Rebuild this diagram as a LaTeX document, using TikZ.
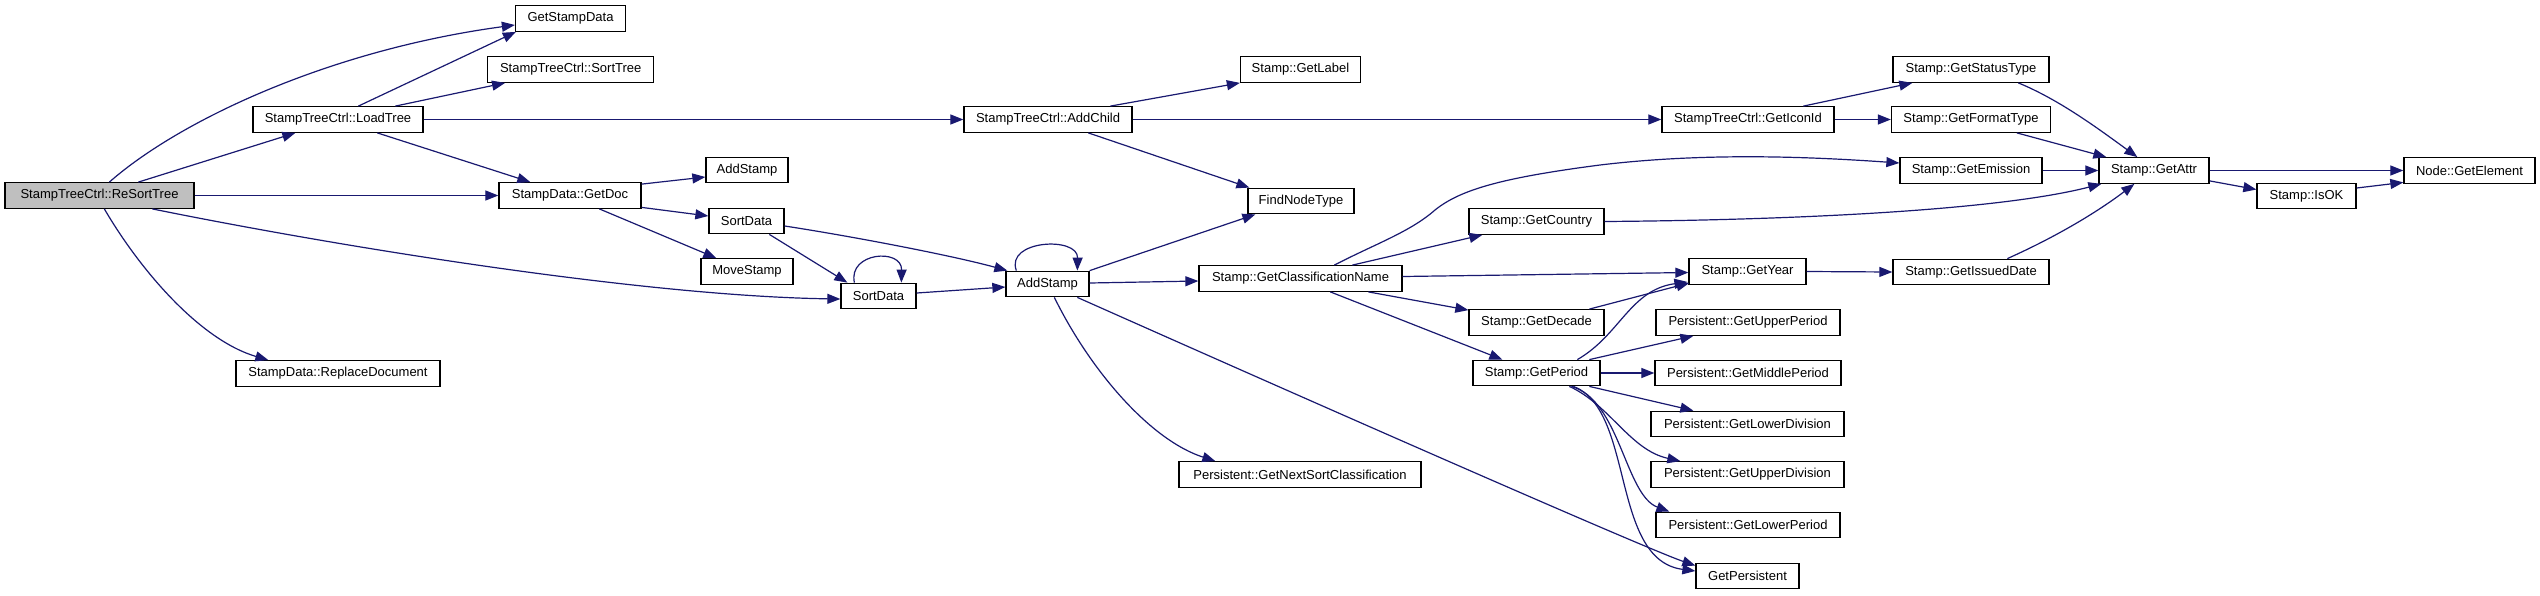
\documentclass[tikz,border=0pt]{standalone}
\usepackage{fontspec}
\setmainfont{Liberation Sans}
\usetikzlibrary{arrows.meta}
\definecolor{edgec}{HTML}{191970}
\definecolor{rootfill}{HTML}{BFBFBF}
\begin{document}
\begin{tikzpicture}[x=1pt,y=-1pt,
 fn/.style={draw=black, line width=1.3pt, fill=white, rectangle, minimum height=25.5pt, inner sep=0pt, font=\fontsize{13}{15}\selectfont, anchor=center},
 e/.style={draw=edgec, line width=1.2pt, -{Triangle[length=13pt,width=10pt]}},
]
\useasboundingbox[fill=white] (0,0) rectangle (2540,595);
% nodes
\node[fn, fill=rootfill, minimum width=189pt] (resort) at (99.5,195.5) {StampTreeCtrl::ReSortTree};
\node[fn, minimum width=110pt] (gsd) at (570.5,18.5) {GetStampData};
\node[fn, minimum width=166pt] (st) at (570.7,69.5) {StampTreeCtrl::SortTree};
\node[fn, minimum width=170pt] (lt) at (338,119.5) {StampTreeCtrl::LoadTree};
\node[fn, minimum width=142pt] (gdoc) at (570,195.5) {StampData::GetDoc};
\node[fn, minimum width=204pt] (rd) at (338,373.5) {StampData::ReplaceDocument};
\node[fn, minimum width=82pt] (as1) at (747,170) {AddStamp};
\node[fn, minimum width=75pt] (sd1) at (746.5,221) {SortData};
\node[fn, minimum width=92pt] (ms) at (747,271.5) {MoveStamp};
\node[fn, minimum width=75pt] (sd2) at (878.5,296) {SortData};
\node[fn, minimum width=83pt] (as2) at (1047.5,284) {AddStamp};
\node[fn, minimum width=168pt] (ac) at (1048,119.5) {StampTreeCtrl::AddChild};
\node[fn, minimum width=106pt] (fnt) at (1301,201) {FindNodeType};
\node[fn, minimum width=120pt] (gl) at (1300.5,69.5) {Stamp::GetLabel};
\node[fn, minimum width=172pt] (gii) at (1748,119.5) {StampTreeCtrl::GetIconId};
\node[fn, minimum width=203pt] (gcn) at (1300.5,278.5) {Stamp::GetClassificationName};
\node[fn, minimum width=242pt] (gnsc) at (1300,474.5) {Persistent::GetNextSortClassification};
\node[fn, minimum width=135pt] (gc) at (1536.5,221.5) {Stamp::GetCountry};
\node[fn, minimum width=135pt] (gdec) at (1536.5,322.5) {Stamp::GetDecade};
\node[fn, minimum width=127pt] (gper) at (1536.5,373) {Stamp::GetPeriod};
\node[fn, minimum width=117pt] (gy) at (1747.5,271.5) {Stamp::GetYear};
\node[fn, minimum width=184pt] (gup) at (1748,322.5) {Persistent::GetUpperPeriod};
\node[fn, minimum width=186pt] (gmp) at (1748,373) {Persistent::GetMiddlePeriod};
\node[fn, minimum width=193pt] (gld) at (1747.5,424) {Persistent::GetLowerDivision};
\node[fn, minimum width=193pt] (gud) at (1747.5,474.5) {Persistent::GetUpperDivision};
\node[fn, minimum width=184pt] (glp) at (1748,525) {Persistent::GetLowerPeriod};
\node[fn, minimum width=103pt] (gpers) at (1747.5,576) {GetPersistent};
\node[fn, minimum width=156pt] (gst) at (1971,69.5) {Stamp::GetStatusType};
\node[fn, minimum width=159pt] (gft) at (1971,119.5) {Stamp::GetFormatType};
\node[fn, minimum width=142pt] (gem) at (1971,170.5) {Stamp::GetEmission};
\node[fn, minimum width=156pt] (gid) at (1971,272) {Stamp::GetIssuedDate};
\node[fn, minimum width=110pt] (ga) at (2154,170.5) {Stamp::GetAttr};
\node[fn, minimum width=99pt] (ok) at (2306.5,196) {Stamp::IsOK};
\node[fn, minimum width=131pt] (ge) at (2469.5,170.5) {Node::GetElement};
% edges
\draw[e] ([xshift=105]resort.north west) .. controls (180,120) and (330,50) .. ([yshift=-6.5]gsd.west);
\draw[e] ([xshift=134]resort.north west) -- ([xshift=43]lt.south west);
\draw[e] (resort.east) -- (gdoc.west);
\draw[e] ([xshift=148]resort.south west) .. controls (330,245) and (640,296) .. ([yshift=-3]sd2.west);
\draw[e] ([xshift=100]resort.south west) .. controls (140,270) and (200,340) .. ([xshift=33]rd.north west);
\draw[e] ([xshift=106]lt.north west) -- ([xshift=1]gsd.south west);
\draw[e] ([xshift=143]lt.north west) -- ([xshift=18]st.south west);
\draw[e] (lt.east) -- (ac.west);
\draw[e] ([xshift=125]lt.south west) -- ([xshift=32]gdoc.north west);
\draw[e] ([yshift=-2]gdoc.north east) -- ([yshift=-7]as1.west);
\draw[e] ([yshift=1.5]gdoc.south east) -- ([yshift=5]sd1.west);
\draw[e] ([xshift=101]gdoc.south west) -- ([xshift=16]ms.north west);
\draw[e] ([yshift=-5]sd1.east) .. controls (850,236) and (950,255) .. ([xshift=2]as2.north west);
\draw[e] ([xshift=61]sd1.south west) -- ([xshift=7]sd2.north west);
\draw[e] ([xshift=14]sd2.north west) .. controls (848,252) and (902,248) .. ([xshift=61]sd2.north west);
\draw[e] ([yshift=3]sd2.east) -- ([yshift=-3]as2.west);
\draw[e] ([xshift=11]as2.north west) .. controls (1005,240) and (1078,236) .. ([xshift=72]as2.north west);
\draw[e] (as2.north east) -- ([xshift=8]fnt.south west);
\draw[e] ([yshift=1]as2.east) -- ([yshift=-2.5]gcn.west);
\draw[e] ([xshift=49]as2.south west) .. controls (1090,370) and (1150,440) .. ([xshift=37]gnsc.north west);
\draw[e] ([xshift=72]as2.south west) .. controls (1380,432) and (1650,550) .. ([yshift=-3]gpers.north west);
\draw[e] ([xshift=147]ac.north west) -- (gl.south west);
\draw[e] (ac.east) -- (gii.west);
\draw[e] ([xshift=125]ac.south west) -- ([xshift=2]fnt.north west);
\draw[e] ([xshift=136]gcn.north west) .. controls (1375,244) and (1410,232) .. (1435,210) .. controls (1460,190) and (1500,178) .. (1600,165) .. controls (1700,153) and (1800,156) .. ([yshift=7.5]gem.west);
\draw[e] ([xshift=154]gcn.north west) -- ([xshift=14]gc.south west);
\draw[e] ([yshift=2]gcn.east) -- ([yshift=-1]gy.west);
\draw[e] ([xshift=170]gcn.south west) -- ([yshift=-1]gdec.north west);
\draw[e] ([xshift=132]gcn.south west) -- ([xshift=30]gper.north west);
\draw[e] (gc.east) .. controls (1800,220) and (2000,210) .. ([xshift=3]ga.south west);
\draw[e] (gy.east) -- (gid.west);
\draw[e] ([xshift=121]gdec.north west) -- ([xshift=1,yshift=2]gy.south west);
\draw[e] ([xshift=105]gper.north west) .. controls (1620,335) and (1630,290) .. ([xshift=-1,yshift=3]gy.south west);
\draw[e] ([xshift=117]gper.north west) -- ([xshift=38]gup.south west);
\draw[e] (gper.east) -- (gmp.west);
\draw[e] ([xshift=117]gper.south west) -- ([xshift=43]gld.north west);
\draw[e] ([xshift=97]gper.south west) .. controls (1610,405) and (1630,450) .. ([xshift=30]gud.north west);
\draw[e] ([xshift=99]gper.south west) .. controls (1620,400) and (1625,495) .. ([xshift=14]glp.north west);
\draw[e] ([xshift=101]gper.south west) .. controls (1635,410) and (1610,560) .. ([yshift=5]gpers.west);
\draw[e] ([xshift=142]gii.north west) -- ([xshift=20]gst.south west);
\draw[e] (gii.east) -- (gft.west);
\draw[e] ([xshift=126]gst.south west) .. controls (2060,100) and (2100,130) .. ([xshift=39]ga.north west);
\draw[e] ([xshift=126]gft.south west) -- ([xshift=8]ga.north west);
\draw[e] (gem.east) -- (ga.west);
\draw[e] ([xshift=115]gid.north west) .. controls (2060,235) and (2100,210) .. ([xshift=36]ga.south west);
\draw[e] (ga.east) -- (ge.west);
\draw[e] ([yshift=3]ga.south east) -- ([yshift=6.5]ok.west);
\draw[e] ([yshift=8]ok.east) -- ([yshift=1.5]ge.south west);
\end{tikzpicture}
\end{document}
